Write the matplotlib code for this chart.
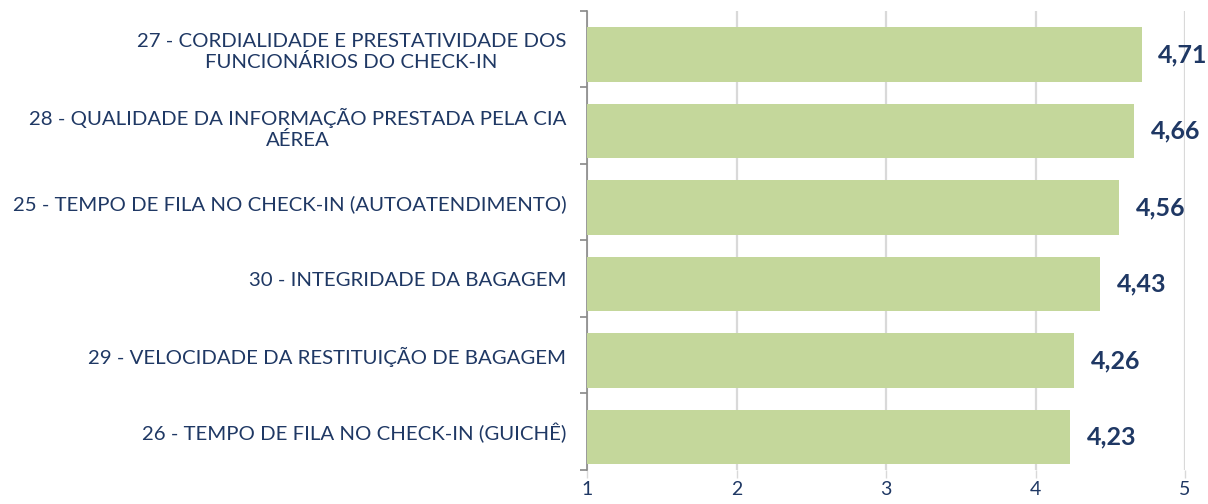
import matplotlib.pyplot as plt
from matplotlib.ticker import FixedLocator

# dados (de cima para baixo)
categorias = [
    "27 - CORDIALIDADE E PRESTATIVIDADE DOS\nFUNCIONÁRIOS DO CHECK-IN",
    "28 - QUALIDADE DA INFORMAÇÃO PRESTADA PELA CIA\nAÉREA",
    "25 - TEMPO DE FILA NO CHECK-IN (AUTOATENDIMENTO)",
    "30 - INTEGRIDADE DA BAGAGEM",
    "29 - VELOCIDADE DA RESTITUIÇÃO DE BAGAGEM",
    "26 - TEMPO DE FILA NO CHECK-IN (GUICHÊ)",
]
notas = [4.71, 4.66, 4.56, 4.43, 4.26, 4.23]
rotulos = ["4,71", "4,66", "4,56", "4,43", "4,26", "4,23"]
xticks = [1, 2, 3, 4, 5]

azul = "#1f3864"
verde = "#c4d79b"

plt.rcParams['font.family'] = ['Lato', 'DejaVu Sans']

fig = plt.figure(figsize=(12.08, 5.04), dpi=100)
ax = fig.add_axes([0.486, 0.0675, 0.495, 0.9107])

y = list(range(len(categorias)))
# as barras ficam um pouco abaixo do centro de cada faixa
y_barras = [v + 0.07 for v in y]
barras = ax.barh(y_barras, [n - 1 for n in notas], left=1, height=0.71, color=verde, zorder=3)
ax.bar_label(barras, labels=rotulos, padding=12, color=azul, fontsize=18,
             fontweight='bold', zorder=4)

ax.set_xlim(1, 5)
ax.set_ylim(len(categorias) - 0.5, -0.5)
ax.set_xticks(xticks)
ax.set_xticklabels([str(t) for t in xticks], fontsize=14, color=azul)
ax.tick_params(axis='x', length=6, width=1, color='#d9d9d9', pad=2)
ax.grid(axis='x', color='#d9d9d9', linewidth=1.6, zorder=0)

ax.set_yticks(y)
ax.set_yticklabels(categorias, fontsize=14.7, color=azul)
for lbl in ax.get_yticklabels():
    lbl.set_multialignment('center')
ax.tick_params(axis='y', which='major', length=0, pad=15)
ax.yaxis.set_minor_locator(FixedLocator([i - 0.5 for i in range(len(categorias) + 1)]))
ax.tick_params(axis='y', which='minor', length=5, width=1.2, color='#888888')

for s in ['top', 'right', 'bottom']:
    ax.spines[s].set_visible(False)
ax.spines['left'].set_color('#888888')
ax.spines['left'].set_linewidth(1.2)

fig.savefig("out.png", dpi=100)
